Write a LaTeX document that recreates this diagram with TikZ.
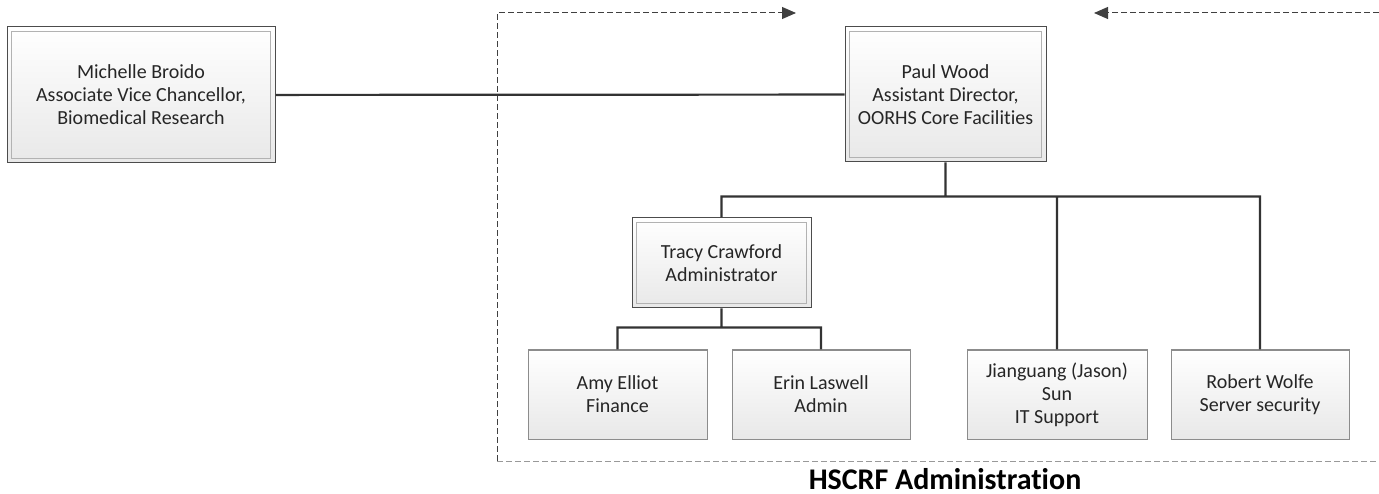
\documentclass[tikz,border=0pt]{standalone}
\usepackage{fontspec}
\setmainfont{Carlito}[Ligatures={NoCommon}]
\usetikzlibrary{arrows.meta, positioning}

\begin{document}
\begin{tikzpicture}[x=1pt, y=1pt,
    every node/.style={font=\fontsize{20}{23}\selectfont, text=black!85, align=center},
    member/.style={rectangle, draw=black!45, line width=1pt, top color=white, bottom color=black!9, inner sep=0pt},
    lead/.style={member, draw=black!70, path picture={\draw[black!30, line width=1.2pt]
        ([shift={(4.5pt,4.5pt)}]path picture bounding box.south west) rectangle
        ([shift={(-4.5pt,-4.5pt)}]path picture bounding box.north east);}},
    link/.style={draw=black!80, line width=2.2pt},
    dashline/.style={draw=black!75, line width=1pt, dash pattern=on 6pt off 3pt}]
\useasboundingbox (0,0) rectangle (1379,-494);
                        \node[lead, minimum width=268, minimum height=136] (broido) at (141, -95) {Michelle Broido\\Associate Vice Chancellor,\\Biomedical Research};
                        \node[lead, minimum width=201, minimum height=135] (wood) at (945.5, -94.5) {Paul Wood\\Assistant Director,\\OORHS Core Facilities};
                        \node[lead, minimum width=179, minimum height=90] (crawford) at (721.5, -263) {Tracy Crawford\\Administrator};
                        \node[member, minimum width=179, minimum height=89] (elliot) at (617.5, -394.5) {Amy Elliot\\Finance};
                        \node[member, minimum width=178, minimum height=89] (laswell) at (821, -394.5) {Erin Laswell\\Admin};
                        \node[member, minimum width=180, minimum height=89] (sun) at (1057, -394.5) {Jianguang (Jason)\\Sun\\IT Support};
                        \node[member, minimum width=178, minimum height=89] (wolfe) at (1260, -394.5) {Robert Wolfe\\Server security};
                        \node[font=\fontsize{30}{34}\selectfont\bfseries, text=black, inner sep=0pt, anchor=base] (group) at (945, -489) {HSCRF Administration};
                        % group frame
                        \coordinate (tl) at (497, -13);
                        \coordinate (tr) at (1379, -13);
                        \coordinate (bl) at (497, -461);
                        \coordinate (br) at (1379, -461);
                        \coordinate (tipl) at (796, -13);
                        \coordinate (tipr) at (1094, -13);
                        \draw[dashline, -{Triangle[length=14pt, width=12pt]}] (bl) -- (tl) -- (tipl);
                        \draw[dashline, -{Triangle[length=14pt, width=12pt]}] (tr) -- (tipr);
                        \draw[dashline, draw=black!40] (bl) -- (br);
                        % reporting lines
                        \draw[link]
                        (broido) -- (wood)
                        (wood.south) -- ++(0, -34) -| (crawford.north)
                        (wood.south) -- ++(0, -34) -| (sun.north)
                        (wood.south) -- ++(0, -34) -| (wolfe.north)
                        (crawford.south) -- ++(0, -19) -| (elliot.north)
                        (crawford.south) -- ++(0, -19) -| (laswell.north);
                    \end{tikzpicture}
\end{document}
